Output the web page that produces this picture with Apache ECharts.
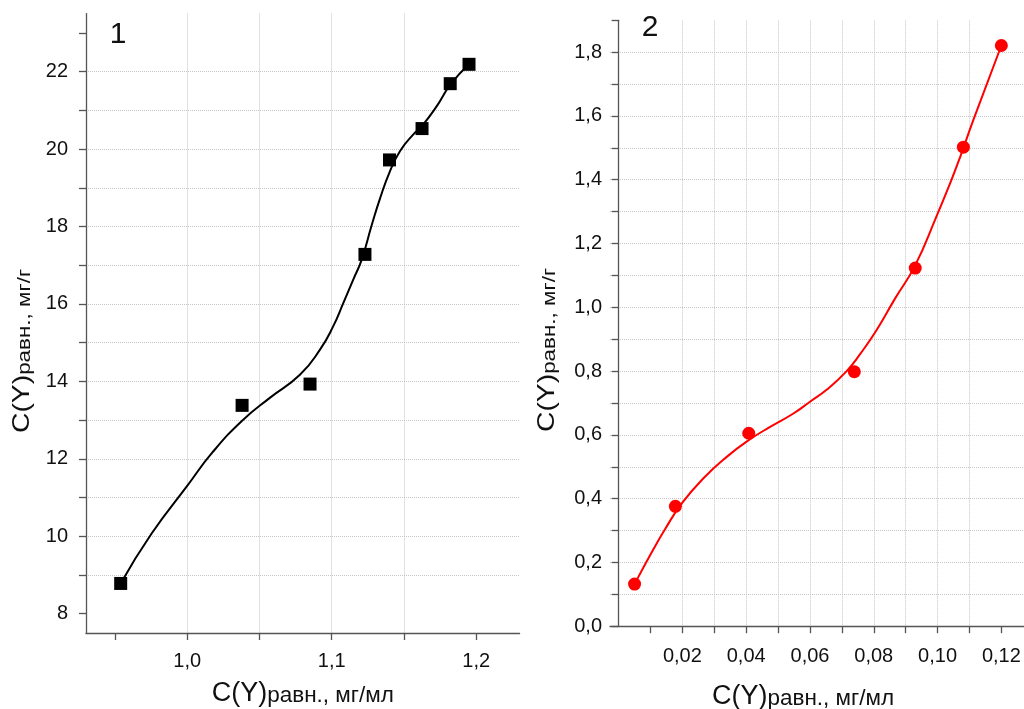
<!DOCTYPE html>
<html>
<head>
<meta charset="utf-8">
<title>Изотермы сорбции Y</title>
<script src="https://cdn.jsdelivr.net/npm/echarts@6/dist/echarts.min.js"></script>
<style>
  html, body { margin: 0; padding: 0; background: #ffffff; }
  #chart { width: 1024px; height: 709px; }
</style>
</head>
<body>
<div id="chart"></div>
<script>
// Panel 1: measured points (squares) and the fitted curve through them
const conc1 = [0.954, 1.038, 1.085, 1.123, 1.140, 1.1625, 1.182, 1.195];
const sorb1 = [8.78, 13.38, 13.93, 17.28, 19.72, 20.53, 21.69, 22.19];
const fitConc1 = [0.954, 0.9754, 1.000, 1.0176, 1.0382, 1.0574, 1.0780, 1.0919, 1.1010,
                  1.1080, 1.1149, 1.1207, 1.1278, 1.1334, 1.1400, 1.1473, 1.1565, 1.1625, 1.1727,
                  1.1822, 1.1951];
const fitSorb1 = [8.78, 10.07, 11.30, 12.17, 12.99, 13.58, 14.17, 14.82, 15.42,
                  16.02, 16.63, 17.14, 18.05, 18.72, 19.40, 19.95, 20.38, 20.60, 21.11,
                  21.67, 22.20];

// Panel 2: measured points (circles) and the fitted curve
const conc2 = [0.0050, 0.0178, 0.0408, 0.0739, 0.0930, 0.1081, 0.1200];
const sorb2 = [0.132, 0.376, 0.605, 0.798, 1.123, 1.502, 1.821];
const fitConc2 = [0.0050, 0.0109, 0.0146, 0.0198, 0.0266, 0.0339, 0.0409, 0.0475, 0.0548, 0.0600,
                  0.0653, 0.0715, 0.0757, 0.0809, 0.0867, 0.0929, 0.0997, 0.1039, 0.1071, 0.1112,
                  0.1200];
const fitSorb2 = [0.132, 0.241, 0.305, 0.385, 0.464, 0.531, 0.584, 0.625, 0.667, 0.704,
                  0.742, 0.800, 0.853, 0.929, 1.028, 1.130, 1.286, 1.388, 1.472, 1.587,
                  1.821];

// Tick marks and labelled ticks of both panels
const ticksX1 = [0.95, 1.0, 1.05, 1.1, 1.15, 1.2];
const labelsX1 = [1.0, 1.1, 1.2];
const ticksY1 = [8, 9, 10, 11, 12, 13, 14, 15, 16, 17, 18, 19, 20, 21, 22, 23];
const labelsY1 = [8, 10, 12, 14, 16, 18, 20, 22];
const ticksX2 = [0.01, 0.02, 0.03, 0.04, 0.05, 0.06, 0.07, 0.08, 0.09, 0.10, 0.11, 0.12];
const labelsX2 = [0.02, 0.04, 0.06, 0.08, 0.10, 0.12];
const ticksY2 = [0, 0.1, 0.2, 0.3, 0.4, 0.5, 0.6, 0.7, 0.8, 0.9, 1.0, 1.1, 1.2, 1.3, 1.4, 1.5, 1.6, 1.7, 1.8, 1.9];
const labelsY2 = [0, 0.2, 0.4, 0.6, 0.8, 1.0, 1.2, 1.4, 1.6, 1.8];

const pairs = (xs, ys) => xs.map((x, i) => [x, ys[i]]);
const comma = digits => v => v.toFixed(digits).replace('.', ',');

const FONT = 'Liberation Sans, Arial, Helvetica, sans-serif';
const AXIS_COLOR = '#555555';
const axisLine = { show: true, onZero: false, lineStyle: { color: AXIS_COLOR, width: 1.3 } };
const tickStyle = { color: AXIS_COLOR, width: 1.3 };
const labelText = { fontFamily: FONT, fontSize: 20, color: '#111111' };
const gridLine = {
  show: true, showMinLine: false, showMaxLine: false,
  lineStyle: { color: '#c6c6c6', type: 'dotted', width: 1 }
};
const xTitleRich = {
  a: { fontFamily: FONT, fontSize: 27, lineHeight: 27, verticalAlign: 'bottom', color: '#111111' },
  b: { fontFamily: FONT, fontSize: 22.5, lineHeight: 22.5, verticalAlign: 'bottom', color: '#111111' }
};
const yTitleRich = {
  a: { fontFamily: FONT, fontSize: 24, lineHeight: 24, verticalAlign: 'bottom', fill: '#111111', color: '#111111' },
  b: { fontFamily: FONT, fontSize: 19, lineHeight: 19, verticalAlign: 'bottom', fill: '#111111', color: '#111111' }
};

const chart = echarts.init(document.getElementById('chart'), null, { renderer: 'canvas' });

const option = {
  animation: false,
  backgroundColor: '#ffffff',
  grid: [
    { left: 86, top: 13.6, width: 433.6, height: 619.4, containLabel: false, outerBoundsMode: 'none' },
    { left: 610, top: 20.3, width: 414, height: 605.9, containLabel: false, outerBoundsMode: 'none' }
  ],
  xAxis: [
    {
      gridIndex: 0, type: 'value', min: 0.93, max: 1.23, splitNumber: 3,
      axisLine: axisLine,
      axisTick: { show: true, customValues: ticksX1, length: 7, lineStyle: tickStyle },
      axisLabel: Object.assign({ customValues: labelsX1, formatter: comma(1), margin: 18 }, labelText),
      splitLine: gridLine,
      name: '{a|C(Y)}{b|равн., мг/мл}', nameLocation: 'middle', nameGap: 47,
      nameTextStyle: { rich: xTitleRich }
    },
    {
      gridIndex: 1, type: 'value', min: -0.0027, max: 0.1271, splitNumber: 6,
      axisLine: axisLine,
      axisTick: { show: true, customValues: ticksX2, length: 7, lineStyle: tickStyle },
      axisLabel: Object.assign({ customValues: labelsX2, formatter: comma(2), margin: 20 }, labelText),
      splitLine: gridLine,
      name: '{a|C(Y)}{b|равн., мг/мл}', nameLocation: 'middle', nameGap: 57,
      nameTextStyle: { rich: xTitleRich, padding: [0, 28, 0, 0] }
    }
  ],
  yAxis: [
    {
      gridIndex: 0, type: 'value', min: 7.5, max: 23.5, splitNumber: 8,
      axisLine: axisLine,
      axisTick: { show: true, customValues: ticksY1, length: 7, lineStyle: tickStyle },
      axisLabel: Object.assign({ customValues: labelsY1, formatter: v => String(v), margin: 18 }, labelText),
      splitLine: gridLine
    },
    {
      gridIndex: 1, type: 'value', min: 0, max: 1.9, interval: 0.2,
      axisLine: Object.assign({}, axisLine, { onZero: true }),
      axisTick: { show: true, customValues: ticksY2, length: 7, lineStyle: tickStyle },
      axisLabel: Object.assign({ customValues: labelsY2, formatter: comma(1), margin: 8 }, labelText),
      splitLine: gridLine
    }
  ],
  graphic: [
    {
      type: 'text', x: 22, y: 351, rotation: Math.PI / 2, scaleX: 1.18,
      style: { text: '{a|C(Y)}{b|равн., мг/г}', rich: yTitleRich, align: 'center', verticalAlign: 'middle',
               textAlign: 'center', textVerticalAlign: 'middle', fill: '#111111' }
    },
    {
      type: 'text', x: 547, y: 350, rotation: Math.PI / 2, scaleX: 1.18,
      style: { text: '{a|C(Y)}{b|равн., мг/г}', rich: yTitleRich, align: 'center', verticalAlign: 'middle',
               textAlign: 'center', textVerticalAlign: 'middle', fill: '#111111' }
    },
    {
      type: 'text', x: 118, y: 35,
      style: { text: '1', font: '30px ' + FONT, fill: '#111111', align: 'center', verticalAlign: 'middle',
               textAlign: 'center', textVerticalAlign: 'middle' }
    },
    {
      type: 'text', x: 650, y: 28,
      style: { text: '2', font: '30px ' + FONT, fill: '#111111', align: 'center', verticalAlign: 'middle',
               textAlign: 'center', textVerticalAlign: 'middle' }
    }
  ],
  series: [
    {
      name: 'fit1', type: 'line', xAxisIndex: 0, yAxisIndex: 0,
      data: pairs(fitConc1, fitSorb1), smooth: 0.5,
      symbol: 'none', lineStyle: { color: '#000000', width: 2 }, z: 2, silent: true
    },
    {
      name: 'points1', type: 'scatter', xAxisIndex: 0, yAxisIndex: 0,
      data: pairs(conc1, sorb1), symbol: 'rect', symbolSize: 13,
      itemStyle: { color: '#000000', opacity: 1 }, z: 3
    },
    {
      name: 'fit2', type: 'line', xAxisIndex: 1, yAxisIndex: 1,
      data: pairs(fitConc2, fitSorb2), smooth: 0.5,
      symbol: 'none', lineStyle: { color: '#ff0000', width: 2 }, z: 2, silent: true
    },
    {
      name: 'points2', type: 'scatter', xAxisIndex: 1, yAxisIndex: 1,
      data: pairs(conc2, sorb2), symbol: 'circle', symbolSize: 13,
      itemStyle: { color: '#ff0000', opacity: 1 }, z: 3
    }
  ]
};

chart.setOption(option);
</script>
</body>
</html>
